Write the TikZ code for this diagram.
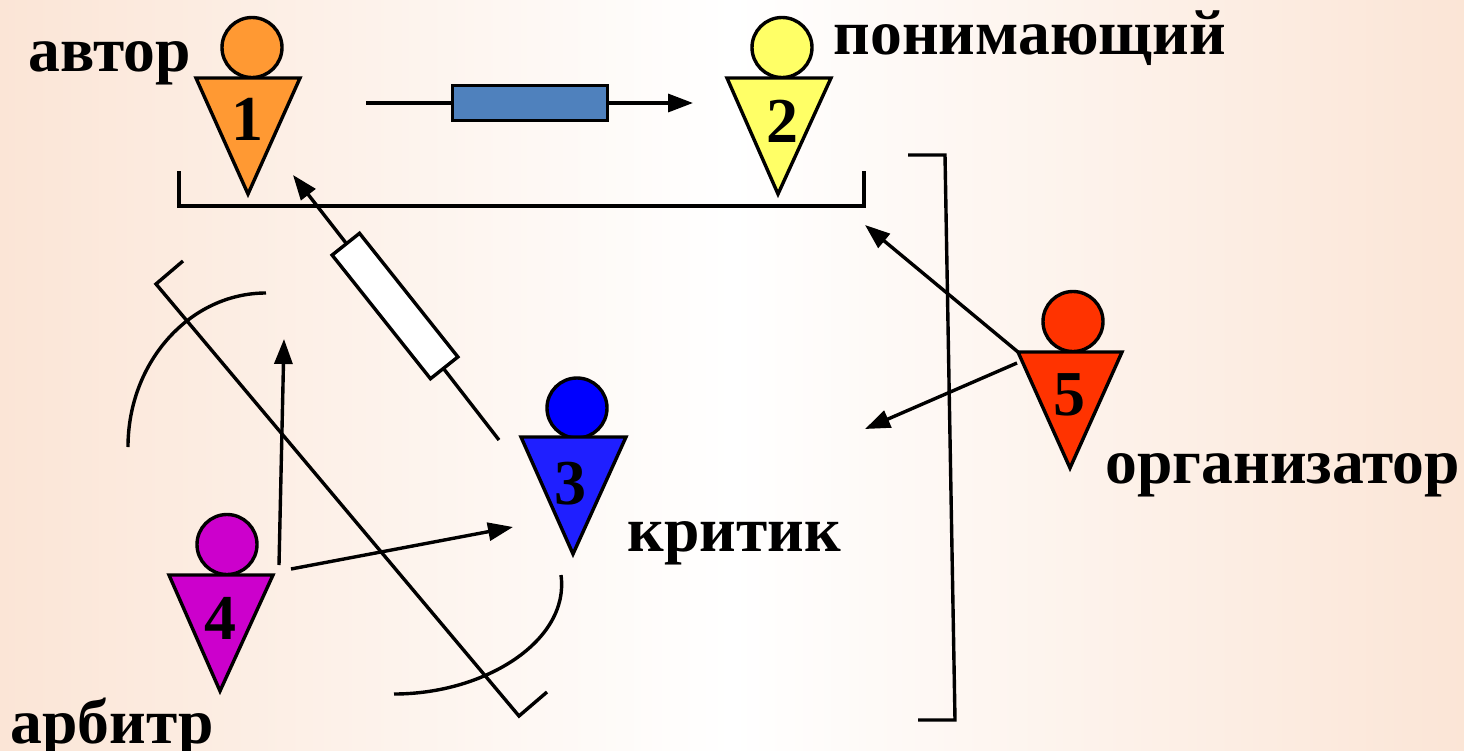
\documentclass[tikz,border=0pt]{standalone}
\usepackage{fontspec}
\setmainfont{Liberation Serif}
\usetikzlibrary{arrows.meta}
\definecolor{edgepeach}{HTML}{FBE5D6}
\definecolor{col1}{HTML}{FF9933}
\definecolor{col2}{HTML}{FFFF66}
\definecolor{col3}{HTML}{1F1FFF}
\definecolor{col4}{HTML}{CC00CC}
\definecolor{col5}{HTML}{FF3300}
\definecolor{pipeblue}{HTML}{4F81BD}
\begin{document}
\begin{tikzpicture}[x=1pt,y=-1pt,line width=3.4pt,
  head/.style={draw,circle,inner sep=0pt,minimum size=60pt},
  body/.style={draw,miter limit=10},
  num/.style={inner sep=0pt,font=\fontsize{64}{64}\selectfont\bfseries},
  role/.style={anchor=base west,inner sep=0pt,font=\fontsize{63.6}{68}\selectfont\bfseries},
  pipe/.style={draw,inner sep=0pt,minimum width=155pt,minimum height=35pt},
  arr/.style={-{Triangle[length=25pt,width=18pt]}}]
\useasboundingbox (0,0) rectangle (1464,750);
\shade [left color=edgepeach,right color=edgepeach,middle color=white] (0,0) rectangle (1464,750);
% brackets
\draw (179,171) -- (179,206) -- (864,206) -- (864,171);
\draw (908,155) -- (945,155) -- (955,720) -- (918,720);
\draw (183,261) -- (156,284) -- (519,716) -- (547,692);
% arcs
\draw (266,293) .. controls (190,293) and (128,362) .. (128,447);
\draw (561,575) .. controls (570,640) and (486,694) .. (394,694);
% people
\node [head,fill=col1] (head1) at (252,47.5) {};
\filldraw [body,fill=col1] (196,78) -- (300,78) -- (248,194) -- cycle;
\node [num] (num1) at (247,119) {1};
\node [head,fill=col2] (head2) at (782,47.5) {};
\filldraw [body,fill=col2] (727,78) -- (831,78) -- (778,194) -- cycle;
\node [num] (num2) at (782,121) {2};
\node [head,fill=blue] (head3) at (577,408) {};
\filldraw [body,fill=col3] (521,437) -- (626,437) -- (573,554) -- cycle;
\node [num] (num3) at (570,484) {3};
\node [head,fill=col4] (head4) at (227,544.5) {};
\filldraw [body,fill=col4] (169,575) -- (273,575) -- (220,691) -- cycle;
\node [num] (num4) at (220,618) {4};
\node [head,fill=col5] (head5) at (1073,321.5) {};
\filldraw [body,fill=col5] (1018,352) -- (1122,352) -- (1070,468) -- cycle;
\node [num] (num5) at (1069,395) {5};
% labels
\node [role] (author) at (27,71) {автор};
\node [role] (reader) at (832,54) {понимающий};
\node [role] (critic) at (626,551) {критик};
\node [role] (referee) at (9,743) {арбитр};
\node [role] (manager) at (1104,483) {организатор};
% arrow ends
\coordinate (a1) at (366,103);
\coordinate (a2) at (693,103);
\coordinate (b1) at (499,440);
\coordinate (b2) at (293,175);
\coordinate (c1) at (1018,352);
\coordinate (c2) at (865,225);
\coordinate (d1) at (1017,363);
\coordinate (d2) at (865,429);
\coordinate (e1) at (279,565);
\coordinate (e2) at (284,339);
\coordinate (f1) at (291,569);
\coordinate (f2) at (513,527);
% arrows
\draw (a1) -- (530,103) coordinate (pipeAc);
\draw [arr] (pipeAc) -- (a2);
\node [pipe,fill=pipeblue] (pipeA) at (pipeAc) {};
\draw (b1) -- (395,306) coordinate (pipeBc);
\draw [arr] (pipeBc) -- (b2);
\node [pipe,fill=white,rotate=-51.5,minimum width=158pt] (pipeB) at (pipeBc) {};
\draw [arr] (c1) -- (c2);
\draw [arr] (d1) -- (d2);
\draw [arr] (e1) -- (e2);
\draw [arr] (f1) -- (f2);
\end{tikzpicture}
\end{document}
